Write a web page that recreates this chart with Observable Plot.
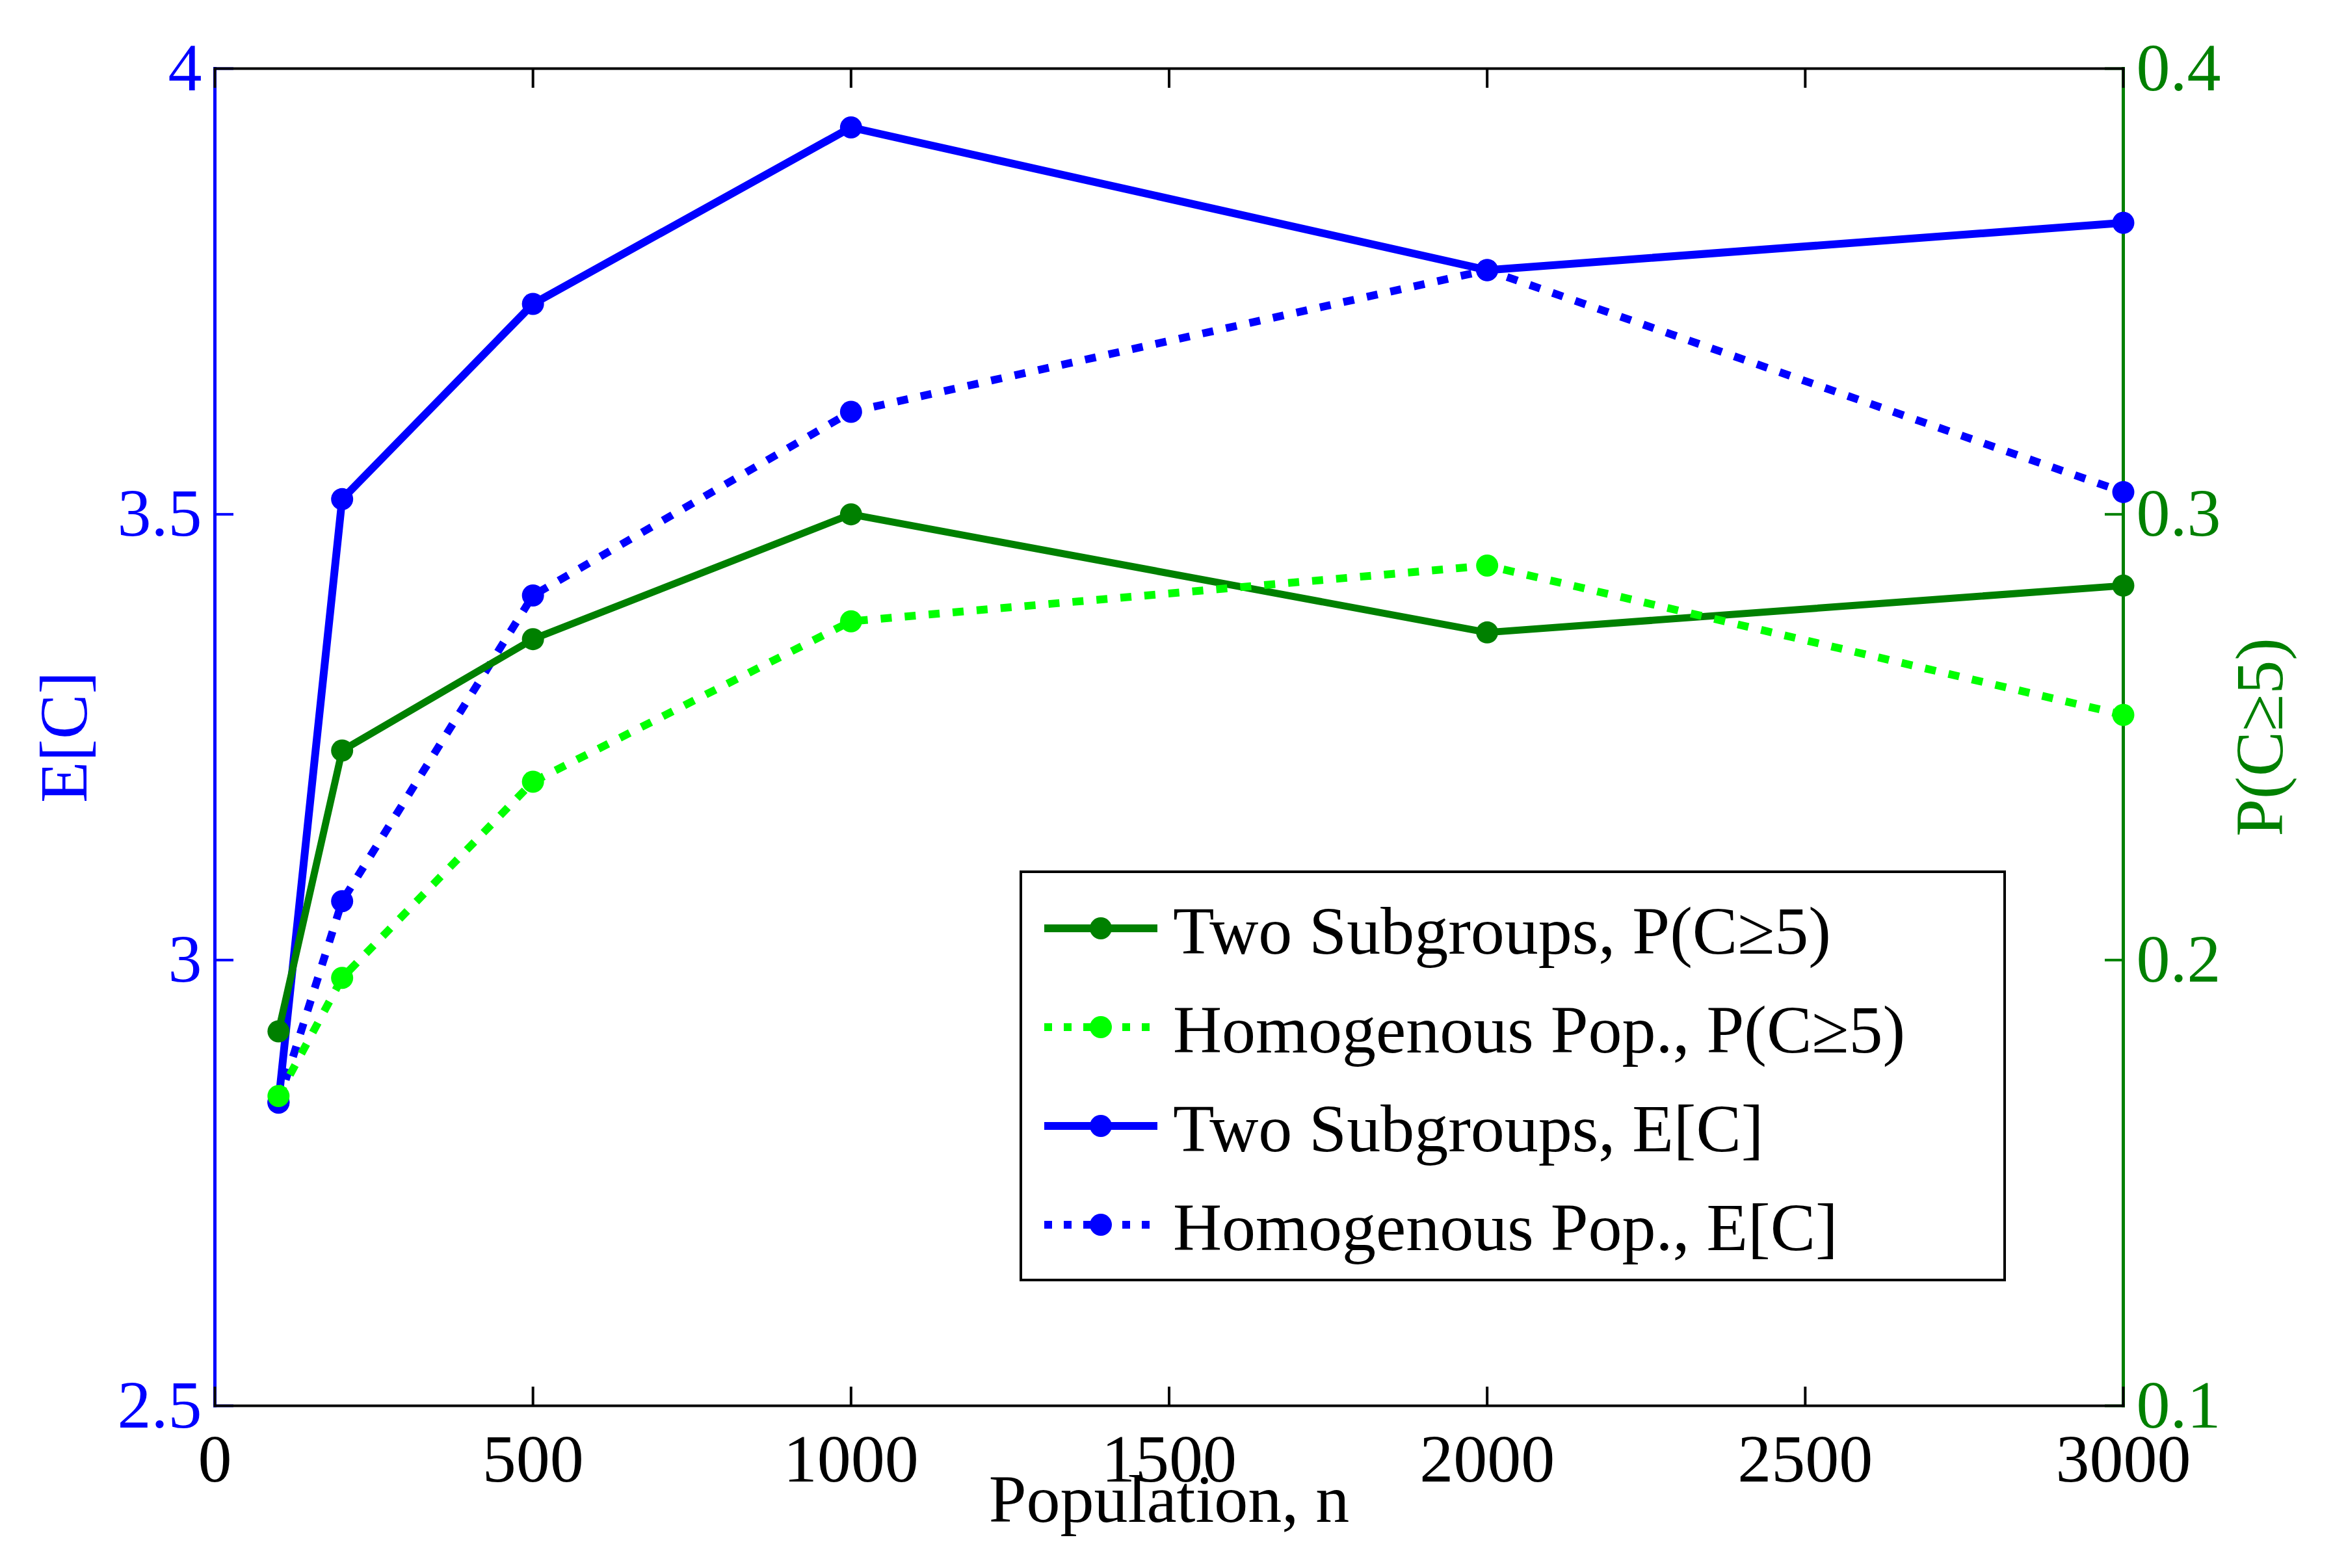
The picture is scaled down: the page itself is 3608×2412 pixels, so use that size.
<!DOCTYPE html>
<html>
<head>
<meta charset="utf-8">
<script src="https://cdn.jsdelivr.net/npm/d3@7"></script>
<script src="https://cdn.jsdelivr.net/npm/@observablehq/plot@0.6"></script>
<style>
  html, body { margin: 0; padding: 0; background: white; }
  #wrap { position: relative; width: 3608px; height: 2412px; font-family: 'Liberation Serif', 'Times New Roman', serif; }
  #legend { position: absolute; left: 0; top: 0; }
</style>
</head>
<body>
<div id="wrap"></div>
<script>
// ---- data ----
const populations = [100, 200, 500, 1000, 2000, 3000];
const twoSubgroupsEC = [2.841, 3.517, 3.736, 3.934, 3.774, 3.827];
const homogenousEC = [2.840, 3.066, 3.409, 3.615, 3.774, 3.525];
const twoSubgroupsP = [0.184, 0.247, 0.272, 0.300, 0.2735, 0.284];
const homogenousP = [0.1695, 0.196, 0.240, 0.276, 0.2885, 0.255];

const xTicks = [0, 500, 1000, 1500, 2000, 2500, 3000];
const eTicks = [2.5, 3, 3.5, 4];
const pTicks = [0.1, 0.2, 0.3, 0.4];

const seriesLabels = ["Two Subgroups, P(C\u22655)", "Homogenous Pop., P(C\u22655)", "Two Subgroups, E[C]", "Homogenous Pop., E[C]"];
const seriesColors = ["#008000", "#00ff00", "#0000ff", "#0000ff"];
const seriesDashed = [false, true, false, true];

// ---- secondary axis mapping (P -> E scale) ----
const eDomain = [2.5, 4];
const pDomain = [0.1, 0.4];
const pToE = p => eDomain[0] + (p - pDomain[0]) * (eDomain[1] - eDomain[0]) / (pDomain[1] - pDomain[0]);
const eToP = e => pDomain[0] + (e - eDomain[0]) * (pDomain[1] - pDomain[0]) / (eDomain[1] - eDomain[0]);

const rows = (ys, map = d => d) => populations.map((n, i) => ({n, v: map(ys[i])}));
const dataTwoE = rows(twoSubgroupsEC);
const dataHomE = rows(homogenousEC);
const dataTwoP = rows(twoSubgroupsP, pToE);
const dataHomP = rows(homogenousP, pToE);

const LW = 12, R = 17, DASH = "17,20";
const fmt1 = d3.format(".1f");

const plot = Plot.plot({
  width: 3608,
  height: 2412,
  marginLeft: 330,
  marginRight: 343,
  marginTop: 105,
  marginBottom: 250,
  x: {domain: [0, 3000]},
  y: {domain: eDomain},
  style: {fontFamily: "'Liberation Serif', 'Times New Roman', serif", fontSize: "104px", background: "white", overflow: "visible"},
  marks: [
    Plot.frame({anchor: "left", stroke: "#0000ff", strokeWidth: 5}),
    Plot.frame({anchor: "right", stroke: "#008000", strokeWidth: 5}),
    Plot.axisY(eTicks, {anchor: "left", tickSize: -29, tickPadding: 49, strokeWidth: 4, color: "#0000ff", label: null, tickFormat: d => String(d)}),
    Plot.axisY(pTicks.map(pToE), {anchor: "right", tickSize: -29, tickPadding: 49, strokeWidth: 4, color: "#008000", label: null, tickFormat: d => fmt1(eToP(d))}),
    Plot.frame({anchor: "top", stroke: "black", strokeWidth: 4}),
    Plot.frame({anchor: "bottom", stroke: "black", strokeWidth: 4}),
    Plot.axisX(xTicks, {anchor: "bottom", tickSize: -29, tickPadding: 72, strokeWidth: 4, color: "black", label: null, tickFormat: d => String(d)}),
    Plot.axisX(xTicks, {anchor: "top", tickSize: -29, strokeWidth: 4, color: "black", label: null, tickFormat: () => ""}),
    // axis titles
    Plot.text(["E[C]"], {frameAnchor: "left", dx: -231, rotate: -90, textAnchor: "middle", lineAnchor: "middle", fill: "#0000ff", fontSize: 104}),
    Plot.text(["P(C\u22655)"], {frameAnchor: "right", dx: 211, rotate: -90, textAnchor: "middle", lineAnchor: "middle", fill: "#008000", fontSize: 104}),
    Plot.text(["Population, n"], {frameAnchor: "bottom", dy: 145, textAnchor: "middle", lineAnchor: "middle", fill: "black", fontSize: 104}),
    // E[C] series (left axis)
    Plot.line(dataTwoE, {x: "n", y: "v", stroke: "#0000ff", strokeWidth: LW}),
    Plot.dot(dataTwoE, {x: "n", y: "v", r: R, fill: "#0000ff"}),
    Plot.line(dataHomE, {x: "n", y: "v", stroke: "#0000ff", strokeWidth: LW, strokeDasharray: DASH, strokeLinecap: "butt"}),
    Plot.dot(dataHomE, {x: "n", y: "v", r: R, fill: "#0000ff"}),
    // P(C>=5) series (right axis)
    Plot.line(dataTwoP, {x: "n", y: "v", stroke: "#008000", strokeWidth: 11}),
    Plot.dot(dataTwoP, {x: "n", y: "v", r: R, fill: "#008000"}),
    Plot.line(dataHomP, {x: "n", y: "v", stroke: "#00ff00", strokeWidth: LW, strokeDasharray: DASH, strokeLinecap: "butt"}),
    Plot.dot(dataHomP, {x: "n", y: "v", r: R, fill: "#00ff00"})
  ]
});

const wrap = document.getElementById("wrap");
wrap.appendChild(plot);

// ---- legend (inside plot area, lower right) ----
const svgNS = "http://www.w3.org/2000/svg";
const leg = document.createElementNS(svgNS, "svg");
leg.setAttribute("id", "legend");
leg.setAttribute("width", 3608);
leg.setAttribute("height", 2412);
const box = {x: 1570, y: 1341, w: 1513, h: 628};
const rect = document.createElementNS(svgNS, "rect");
rect.setAttribute("x", box.x); rect.setAttribute("y", box.y);
rect.setAttribute("width", box.w); rect.setAttribute("height", box.h);
rect.setAttribute("fill", "white"); rect.setAttribute("stroke", "black"); rect.setAttribute("stroke-width", 4);
leg.appendChild(rect);
seriesLabels.forEach((lab, i) => {
  const ly = box.y + 87 + 152 * i;
  const ln = document.createElementNS(svgNS, "line");
  ln.setAttribute("x1", box.x + 36); ln.setAttribute("x2", box.x + 210);
  ln.setAttribute("y1", ly); ln.setAttribute("y2", ly);
  ln.setAttribute("stroke", seriesColors[i]);
  ln.setAttribute("stroke-width", LW);
  if (seriesDashed[i]) ln.setAttribute("stroke-dasharray", "12,18");
  leg.appendChild(ln);
  const c = document.createElementNS(svgNS, "circle");
  c.setAttribute("cx", box.x + 123); c.setAttribute("cy", ly); c.setAttribute("r", R);
  c.setAttribute("fill", seriesColors[i]);
  leg.appendChild(c);
  const t = document.createElementNS(svgNS, "text");
  t.setAttribute("x", box.x + 234); t.setAttribute("y", ly + 39);
  t.setAttribute("font-family", "'Liberation Serif', 'Times New Roman', serif");
  t.setAttribute("font-size", 104);
  t.setAttribute("fill", "black");
  t.textContent = lab;
  leg.appendChild(t);
});
wrap.appendChild(leg);
</script>
</body>
</html>
